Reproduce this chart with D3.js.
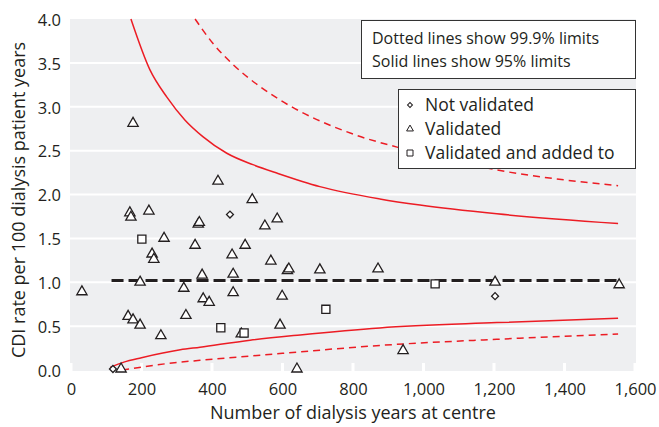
<!DOCTYPE html>
<html>
<head>
<meta charset="utf-8">
<script src="https://cdn.jsdelivr.net/npm/d3@7"></script>
<style>
  body { margin: 0; background: #fff; }
  svg text { font-family: "Open Sans", sans-serif; fill: #231f20; }
</style>
</head>
<body>
<svg id="chart" width="659" height="427"></svg>
<script>
// Data: [dialysis years, CDI rate]
const notValidated = [[119, 0.0], [451, 1.76], [1203, 0.83]];
const validated = [
  [31, 0.88], [142, 0.0], [162, 0.60], [176, 0.56], [196, 0.50], [196, 0.99],
  [255, 0.38], [176, 2.80], [167, 1.78], [170, 1.73], [221, 1.80], [264, 1.49],
  [230, 1.31], [235, 1.25], [320, 0.92], [326, 0.61], [352, 1.41], [361, 1.65],
  [364, 1.67], [372, 1.07], [375, 0.80], [392, 0.76], [417, 2.14], [457, 1.30],
  [460, 1.08], [460, 0.87], [483, 0.40], [494, 1.41], [514, 1.93], [550, 1.63],
  [567, 1.23], [585, 1.71], [593, 0.50], [599, 0.83], [614, 1.12], [618, 1.14],
  [641, 0.0], [706, 1.13], [871, 1.14], [942, 0.21], [1203, 0.99], [1555, 0.96]
];
const validatedAdded = [[201, 1.48], [425, 0.47], [491, 0.41], [723, 0.68], [1033, 0.97]];

// Control limits (read at a few positions)
const upper95 = [[170, 4.0], [224, 3.42], [272, 3.11], [323, 2.85], [374, 2.66], [442, 2.47],
  [516, 2.34], [587, 2.24], [706, 2.09], [876, 1.95], [990, 1.88], [1208, 1.78], [1552, 1.67]];
const upper999 = [[352, 4.0], [403, 3.72], [460, 3.48], [536, 3.23], [584, 3.10], [806, 2.68],
  [925, 2.54], [1208, 2.28], [1552, 2.10]];
const lower95 = [[111, 0.03], [150, 0.09], [200, 0.14], [310, 0.23], [366, 0.26], [508, 0.34],
  [650, 0.40], [876, 0.48], [1208, 0.54], [1552, 0.59]];
const lower999 = [[145, 0.0], [310, 0.09], [366, 0.11], [600, 0.19], [876, 0.28], [1208, 0.35], [1552, 0.41]];
const meanRate = 1.02;
const meanSpan = [115, 1555];

const xTicks = [0, 200, 400, 600, 800, 1000, 1200, 1400, 1600];
const yTicks = [0, 0.5, 1, 1.5, 2, 2.5, 3, 3.5, 4];
const noteLines = ["Dotted lines show 99.9% limits", "Solid lines show 95% limits"];
const legendLabels = ["Not validated", "Validated", "Validated and added to"];

const svg = d3.select("svg#chart");
const x = d3.scaleLinear().domain([0, 1600]).range([71, 635]);
const y = d3.scaleLinear().domain([0, 4]).range([370, 19]);

// plot background
svg.append("rect")
  .attr("x", 70).attr("y", 19)
  .attr("width", 566).attr("height", 352)
  .attr("fill", "#eeeff1");

// white gridlines
svg.append("g").selectAll("line")
  .data(yTicks.filter(d => d > 0 && d < 4))
  .enter().append("line")
  .attr("x1", 70).attr("x2", 636)
  .attr("y1", d => y(d)).attr("y2", d => y(d))
  .attr("stroke", "#fff").attr("stroke-width", 2);

// white tick marks on the bottom
svg.append("g").selectAll("rect")
  .data(xTicks)
  .enter().append("rect")
  .attr("x", d => x(d) - 1.5).attr("y", 363)
  .attr("width", 3).attr("height", 8)
  .attr("fill", "#fff");

// axes labels
const xAxis = d3.axisBottom(x).tickValues(xTicks).tickSize(0).tickPadding(0)
  .tickFormat(d3.format(","));
const xg = svg.append("g").attr("transform", "translate(0,383)").call(xAxis);
xg.select(".domain").remove();
xg.selectAll("text").attr("font-size", 16.5).attr("fill", "#231f20")
  .attr("font-family", "Open Sans, sans-serif");

const yAxis = d3.axisLeft(y).tickValues(yTicks).tickSize(0).tickPadding(0)
  .tickFormat(d3.format(".1f"));
const yg = svg.append("g").attr("transform", "translate(61,1)").call(yAxis);
yg.select(".domain").remove();
yg.selectAll("text").attr("font-size", 16.5).attr("fill", "#231f20")
  .attr("font-family", "Open Sans, sans-serif");

svg.append("text")
  .attr("x", 353).attr("y", 419)
  .attr("text-anchor", "middle")
  .attr("font-size", 18)
  .text("Number of dialysis years at centre");

svg.append("text")
  .attr("transform", "translate(25,200) rotate(-90)")
  .attr("text-anchor", "middle")
  .attr("font-size", 18)
  .text("CDI rate per 100 dialysis patient years");

// limit lines
const plot = svg.append("g");
const line = d3.line().x(d => x(d[0])).y(d => y(d[1])).curve(d3.curveMonotoneX);
const red = "#ec1c24";
[[upper95, null], [lower95, null], [upper999, "7,5"], [lower999, "7,5"]].forEach(function(c) {
  plot.append("path")
    .attr("d", line(c[0]))
    .attr("fill", "none")
    .attr("stroke", red)
    .attr("stroke-width", 1.5)
    .attr("stroke-dasharray", c[1]);
});

plot.append("line")
  .attr("x1", x(meanSpan[0])).attr("x2", x(meanSpan[1]))
  .attr("y1", y(meanRate)).attr("y2", y(meanRate))
  .attr("stroke", "#231f20").attr("stroke-width", 3)
  .attr("stroke-dasharray", "12,5");

// markers
const triangle = d3.symbol().type(d3.symbolTriangle).size(46);
const square = d3.symbol().type(d3.symbolSquare).size(66);
const diamond = d3.symbol().type(d3.symbolSquare).size(24);

function drawPoints(data, sym, rot) {
  plot.append("g").selectAll("path")
    .data(data)
    .enter().append("path")
    .attr("d", sym)
    .attr("transform", d => "translate(" + x(d[0]) + "," + (y(d[1]) - 1) + ")" + (rot ? " rotate(45)" : ""))
    .attr("fill", "#fff")
    .attr("stroke", "#231f20")
    .attr("stroke-width", 1.3);
}
drawPoints(validated, triangle, false);
drawPoints(validatedAdded, square, false);
drawPoints(notValidated, diamond, true);

// note box
const note = svg.append("g");
note.append("rect")
  .attr("x", 361.5).attr("y", 20.5).attr("width", 274).attr("height", 58)
  .attr("fill", "#fff").attr("stroke", "#333").attr("stroke-width", 1);
note.selectAll("text")
  .data(noteLines)
  .enter().append("text")
  .attr("x", 372).attr("y", (d, i) => 44 + i * 23)
  .attr("font-size", 16)
  .text(d => d);

// legend
const legend = svg.append("g");
legend.append("rect")
  .attr("x", 398.5).attr("y", 89.5).attr("width", 237).attr("height", 79)
  .attr("fill", "#fff").attr("stroke", "#333").attr("stroke-width", 1);
const legendSyms = [
  d3.symbol().type(d3.symbolSquare).size(12),
  d3.symbol().type(d3.symbolTriangle).size(20),
  d3.symbol().type(d3.symbolSquare).size(36)
];
legendLabels.forEach(function(label, i) {
  let cy = 105 + i * 24;
  legend.append("path")
    .attr("d", legendSyms[i]())
    .attr("transform", "translate(410," + cy + ")" + (i == 0 ? " rotate(45)" : ""))
    .attr("fill", "#fff").attr("stroke", "#231f20").attr("stroke-width", 1);
  legend.append("text")
    .attr("x", 425).attr("y", cy + 6)
    .attr("font-size", 17.5)
    .text(label);
});
</script>
</body>
</html>
